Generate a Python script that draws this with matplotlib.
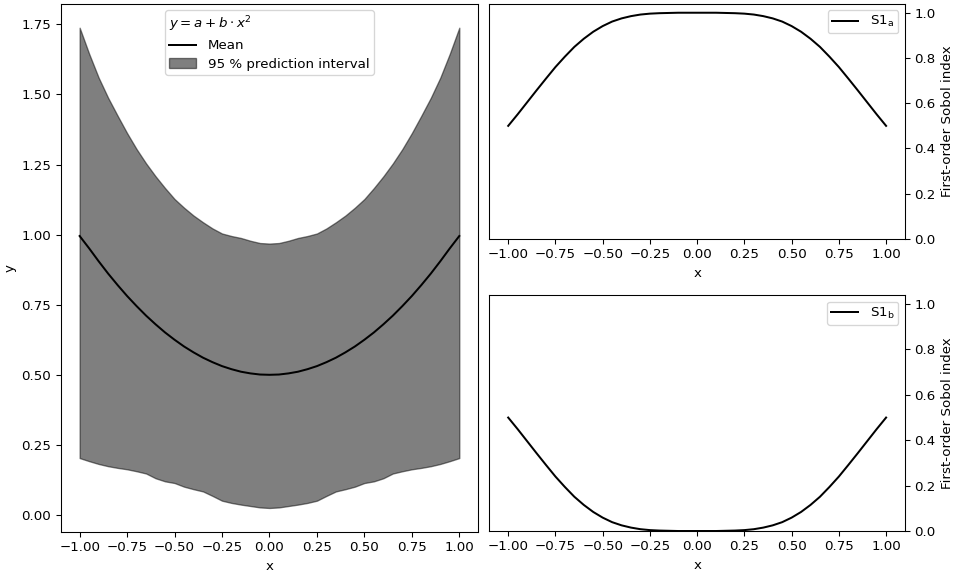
import matplotlib
matplotlib.use("Agg")
import matplotlib.pyplot as plt
import numpy as np

x = [-1.0, -0.95, -0.9, -0.85, -0.8, -0.75, -0.7, -0.65, -0.6, -0.55, -0.5,
     -0.45, -0.4, -0.35, -0.3, -0.25, -0.2, -0.15, -0.1, -0.05, 0.0,
     0.05, 0.1, 0.15, 0.2, 0.25, 0.3, 0.35, 0.4, 0.45, 0.5,
     0.55, 0.6, 0.65, 0.7, 0.75, 0.8, 0.85, 0.9, 0.95, 1.0]

upper = [1.738, 1.645, 1.560, 1.488, 1.424, 1.362, 1.305, 1.254, 1.208, 1.166, 1.127,
         1.096, 1.068, 1.044, 1.022, 1.004, 0.995, 0.988, 0.978, 0.970, 0.968,
         0.970, 0.978, 0.988, 0.995, 1.004, 1.022, 1.044, 1.068, 1.096, 1.127,
         1.166, 1.208, 1.254, 1.305, 1.362, 1.424, 1.488, 1.560, 1.645, 1.738]

lower = [0.203, 0.192, 0.182, 0.174, 0.168, 0.163, 0.156, 0.148, 0.131, 0.120, 0.114,
         0.101, 0.092, 0.084, 0.068, 0.051, 0.043, 0.037, 0.032, 0.027, 0.025,
         0.027, 0.032, 0.037, 0.043, 0.051, 0.068, 0.084, 0.092, 0.101, 0.114,
         0.120, 0.131, 0.148, 0.156, 0.163, 0.168, 0.174, 0.182, 0.192, 0.203]

mean = [0.995, 0.951, 0.905, 0.861, 0.820, 0.781, 0.745, 0.711, 0.680, 0.651, 0.625,
        0.601, 0.580, 0.561, 0.545, 0.531, 0.520, 0.511, 0.505, 0.501, 0.500,
        0.501, 0.505, 0.511, 0.520, 0.531, 0.545, 0.561, 0.580, 0.601, 0.625,
        0.651, 0.680, 0.711, 0.745, 0.781, 0.820, 0.861, 0.905, 0.951, 0.995]

s1_a = [0.500, 0.551, 0.604, 0.657, 0.709, 0.760, 0.806, 0.849, 0.885, 0.916, 0.941,
        0.961, 0.975, 0.985, 0.992, 0.996, 0.998, 0.999, 1.000, 1.000, 1.000,
        1.000, 1.000, 0.999, 0.998, 0.996, 0.992, 0.985, 0.975, 0.961, 0.941,
        0.916, 0.885, 0.849, 0.806, 0.760, 0.709, 0.657, 0.604, 0.551, 0.500]

s1_b = [0.500, 0.449, 0.396, 0.343, 0.291, 0.240, 0.194, 0.151, 0.115, 0.084, 0.059,
        0.039, 0.025, 0.015, 0.008, 0.004, 0.002, 0.001, 0.000, 0.000, 0.000,
        0.000, 0.000, 0.001, 0.002, 0.004, 0.008, 0.015, 0.025, 0.039, 0.059,
        0.084, 0.115, 0.151, 0.194, 0.240, 0.291, 0.343, 0.396, 0.449, 0.500]

fig = plt.figure(figsize=(10, 6), dpi=96)

ax0 = fig.add_axes([0.0632, 0.0764, 0.4350, 0.9172])
ax0.fill_between(x, lower, upper, color="k", alpha=0.5, label="95 % prediction interval")
ax0.plot(x, mean, color="k", lw=1.5, label="Mean")
ax0.set_xlabel("x")
ax0.set_ylabel("y")
handles, labels = ax0.get_legend_handles_labels()
ax0.legend(handles[::-1], labels[::-1], loc="upper center",
           title=r"$y = a + b \cdot x^2$", alignment="left",
           borderpad=0.3, labelspacing=0.4, handletextpad=0.9)

ax1 = fig.add_axes([0.5097, 0.5851, 0.4330, 0.4085])
ax1.plot(x, s1_a, color="k", lw=1.5, label=r"S1$_\mathrm{a}$")
ax1.set_ylim(0, 1.04)
ax1.set_xlabel("x")
ax1.yaxis.tick_right()
ax1.yaxis.set_label_position("right")
ax1.set_ylabel("First-order Sobol index")
ax1.legend(loc="upper right", borderpad=0.3, handletextpad=0.9)

ax2 = fig.add_axes([0.5097, 0.0781, 0.4330, 0.4097])
ax2.plot(x, s1_b, color="k", lw=1.5, label=r"S1$_\mathrm{b}$")
ax2.set_ylim(0, 1.04)
ax2.set_xlabel("x")
ax2.yaxis.tick_right()
ax2.yaxis.set_label_position("right")
ax2.set_ylabel("First-order Sobol index")
ax2.legend(loc="upper right", borderpad=0.3, handletextpad=0.9)

fig.savefig("out.png", dpi=96)
